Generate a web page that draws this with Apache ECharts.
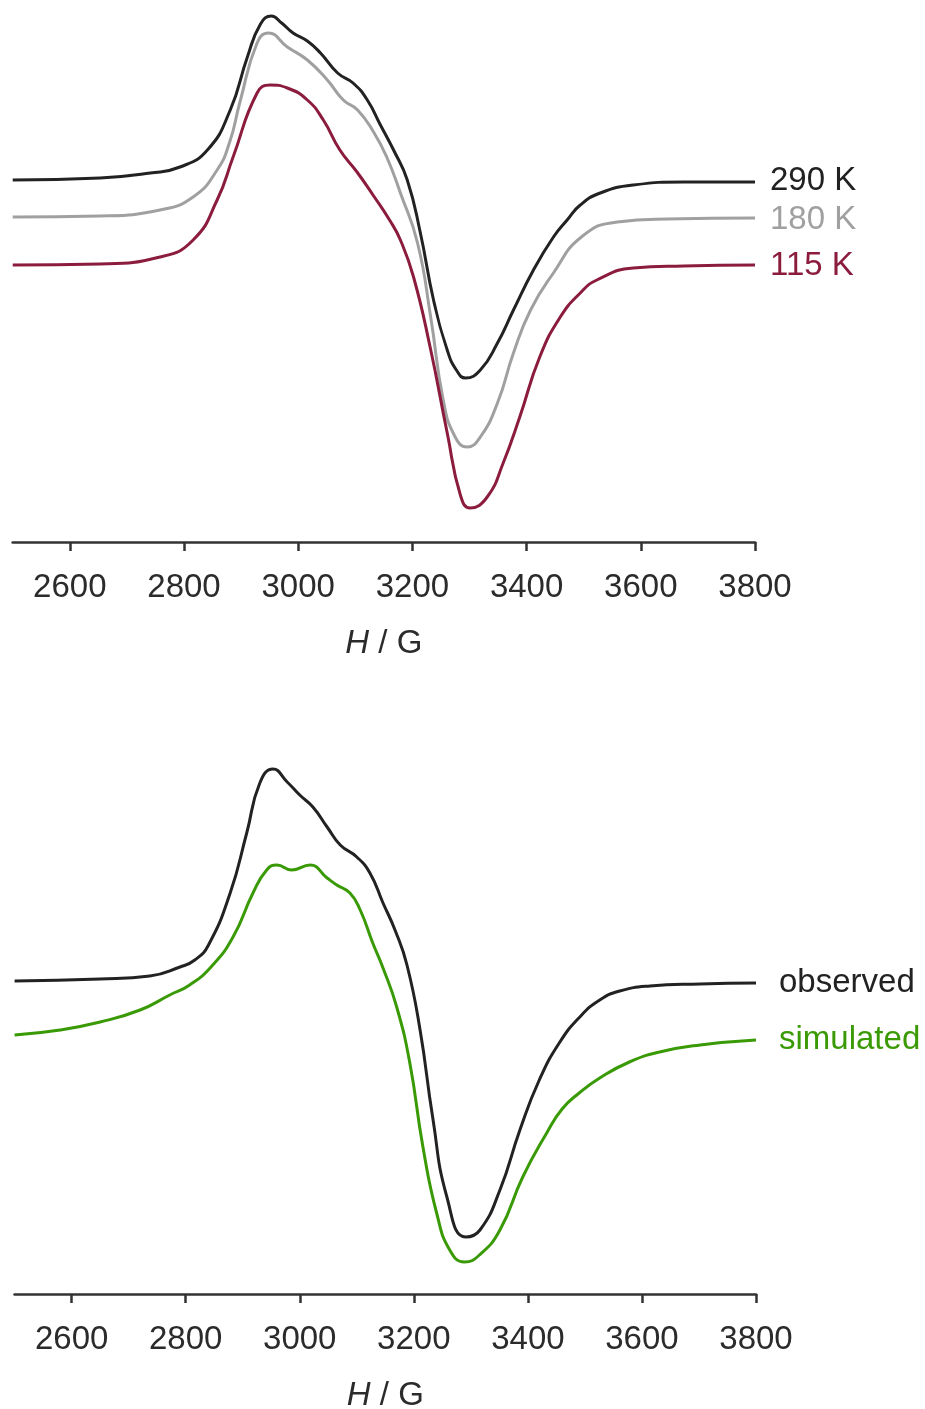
<!DOCTYPE html>
<html>
<head>
<meta charset="utf-8">
<script src="https://cdn.jsdelivr.net/npm/echarts@6/dist/echarts.min.js"></script>
<style>
  html, body { margin: 0; padding: 0; background: #fff; }
  #chart { width: 925px; height: 1409px; }
</style>
</head>
<body>
<div id="chart"></div>
<script>
// field H (G) and intensity (arb. units) pairs
const k290 = [[2500,362],[2653,364],[2741,369],[2793,375],[2841,392],[2881,432],[2911,485],[2934,518],[2953,526],[2971,519],[2991,509],[3016,501],[3039,489],[3069,469],[3096,459],[3121,442],[3144,417],[3167,392],[3191,362],[3214,309],[3237,242],[3261,192],[3277,172],[3293,164],[3319,172],[3349,199],[3377,232],[3412,272],[3447,305],[3471,322],[3494,337],[3529,349],[3587,357],[3675,360],[3800,360]];
const k180 = [[2500,325],[2653,326],[2758,332],[2816,345],[2858,372],[2880,400],[2898,440],[2928,499],[2948,509],[2981,495],[3016,482],[3051,462],[3079,442],[3104,432],[3132,410],[3155,385],[3179,349],[3209,299],[3232,225],[3254,142],[3274,106],[3296,95],[3319,105],[3349,139],[3377,189],[3407,232],[3447,269],[3496,305],[3559,320],[3647,323],[3800,324]];
const k115 = [[2500,277],[2653,278],[2758,285],[2816,302],[2858,342],[2886,385],[2928,449],[2951,457],[2981,454],[3016,442],[3044,422],[3073,392],[3103,370],[3131,347],[3160,322],[3179,302],[3202,265],[3231,195],[3261,109],[3284,47],[3301,34],[3331,45],[3359,79],[3388,125],[3423,185],[3459,225],[3494,249],[3523,262],[3587,274],[3675,276],[3800,277]];
const observed = [[2500,313],[2650,315],[2737,318],[2790,327],[2816,334],[2840,349],[2878,401],[2907,461],[2930,511],[2953,525],[2978,512],[3000,499],[3023,487],[3048,467],[3071,449],[3100,437],[3123,421],[3146,391],[3167,364],[3188,329],[3211,264],[3233,177],[3258,97],[3291,57],[3316,64],[3351,104],[3386,164],[3420,214],[3455,251],[3491,277],[3526,294],[3561,303],[3614,308],[3702,310],[3800,311]];
const simulated = [[2500,259],[2580,264],[2650,272],[2720,284],[2772,299],[2807,309],[2846,328],[2883,357],[2918,401],[2942,424],[2960,429],[2986,424],[3018,429],[3048,416],[3065,409],[3088,401],[3106,384],[3128,351],[3146,326],[3170,287],[3193,231],[3216,147],[3240,81],[3263,44],[3289,32],[3315,39],[3351,64],[3391,117],[3433,161],[3460,185],[3490,201],[3526,216],[3578,232],[3631,242],[3702,249],[3800,254]];
const fieldTicks = [2600, 2800, 3000, 3200, 3400, 3600, 3800];

const FONT = "'Liberation Sans', Arial, sans-serif";
const INK = "#2b2b2b";

function fieldAxis(gridIndex) {
  return {
    type: "value",
    gridIndex: gridIndex,
    min: 2500,
    max: 3800,
    name: "{it|H} / G",
    nameLocation: "middle",
    nameGap: 85,
    nameTextStyle: {
      fontSize: 33, color: INK, fontFamily: FONT,
      rich: { it: { fontStyle: "italic", fontSize: 33, color: INK, fontFamily: FONT } },
    },
    axisLine: { show: true, lineStyle: { color: "#333", width: 2.7 } },
    axisTick: { show: true, inside: false, length: 9, customValues: fieldTicks, lineStyle: { color: "#333", width: 2.5 } },
    axisLabel: {
      show: true, customValues: fieldTicks, margin: 29, fontSize: 33, color: INK, fontFamily: FONT,
      formatter: (v) => String(v),
    },
    splitLine: { show: false },
  };
}

function trace(name, data, color, axis, distance, offsetY) {
  return {
    name: name,
    type: "line",
    xAxisIndex: axis,
    yAxisIndex: axis,
    data: data,
    smooth: 0.5,
    showSymbol: false,
    lineStyle: { color: color, width: 3 },
    itemStyle: { color: color },
    endLabel: {
      show: true,
      formatter: name,
      distance: distance,
      offset: [0, offsetY],
      fontSize: 33,
      fontFamily: FONT,
      color: color,
    },
    emphasis: { disabled: true },
  };
}

const chart = echarts.init(document.getElementById("chart"));
chart.setOption({
  animation: false,
  grid: [
    { left: 12.7, width: 742.3, top: 0, height: 542, outerBoundsMode: "none" },
    { left: 14.6, width: 741.4, top: 752, height: 542, outerBoundsMode: "none" },
  ],
  xAxis: [fieldAxis(0), fieldAxis(1)],
  yAxis: [
    { type: "value", gridIndex: 0, min: 0, max: 542, show: false },
    { type: "value", gridIndex: 1, min: 0, max: 542, show: false },
  ],
  series: [
    trace("290 K", k290, "#222222", 0, 15, -1),
    trace("180 K", k180, "#a0a0a0", 0, 15, 2),
    trace("115 K", k115, "#8b1c3e", 0, 15, 1),
    trace("observed", observed, "#222222", 1, 23, 0),
    trace("simulated", simulated, "#3a9a06", 1, 23, 0),
  ],
});
</script>
</body>
</html>
